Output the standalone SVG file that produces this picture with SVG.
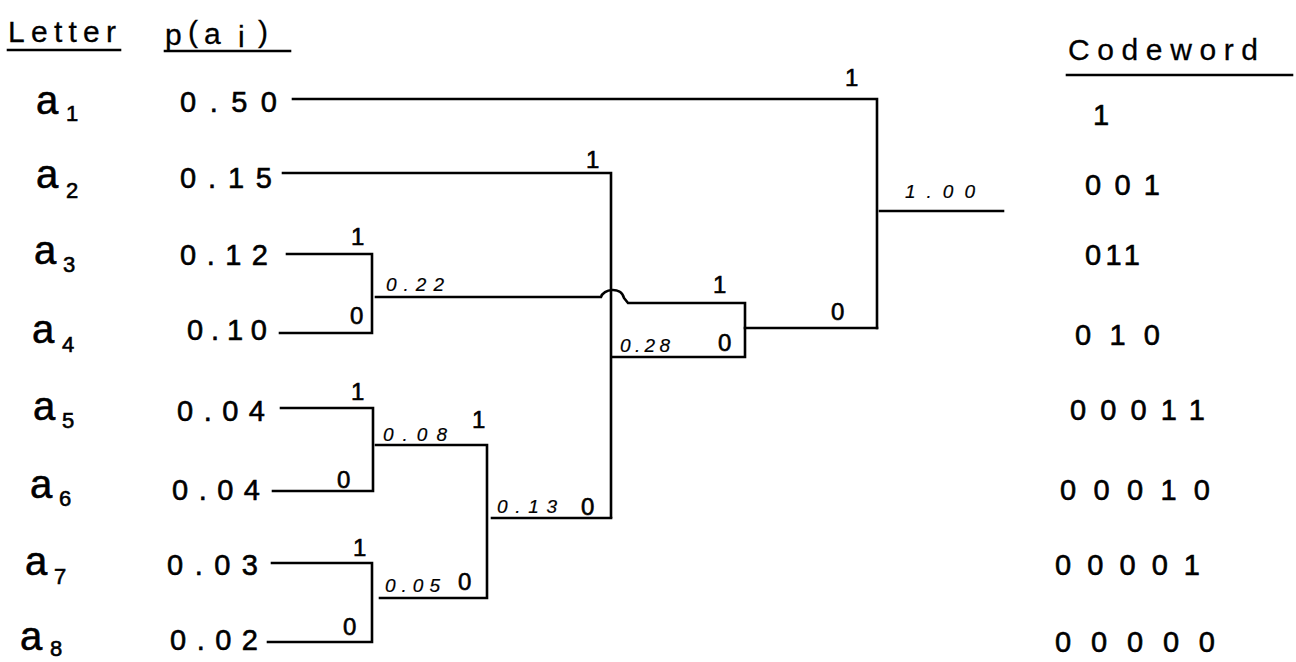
<svg xmlns="http://www.w3.org/2000/svg" width="1296" height="662" viewBox="0 0 1296 662">
<style>
text{font-family:"Liberation Sans","DejaVu Sans",sans-serif;fill:#000;stroke:#000;stroke-width:0.6}
.hd{font-size:30px;stroke-width:0.3}
.let{font-size:40px}
.sub{font-size:22px}
.pr{font-size:29px}
.cw{font-size:29px}
.sm{font-size:19px;font-style:italic;stroke-width:0.2}
.bit{font-size:24px}
.ln{stroke:#000;stroke-width:2.6;fill:none;stroke-linejoin:miter;stroke-linecap:square}
</style>
<rect width="1296" height="662" fill="#fff"/>
<g id="header">
<text class="hd" x="8" y="42" textLength="108" lengthAdjust="spacing">Letter</text>
<text class="hd" x="165" y="45" font-size="34">p</text>
<text class="hd" x="188" y="42" font-size="30">(</text>
<text class="hd" x="204" y="44" font-size="38">a</text>
<text class="hd" x="238" y="47" font-size="22">i</text>
<text class="hd" x="258" y="42" font-size="30">)</text>
<text class="hd" x="1068" y="60" textLength="190" lengthAdjust="spacing" font-size="32">Codeword</text>
<path class="ln" d="M8 50H120M165 51H290M1067 75H1292"/>
</g>
<g id="a1"><text class="let" x="36" y="114">a</text><text class="sub" x="66" y="121">1</text>
<text class="pr" x="180" y="112" textLength="97" lengthAdjust="spacing">0.50</text>
<text class="cw" x="1093" y="125">1</text></g>
<g id="a2"><text class="let" x="36" y="188">a</text><text class="sub" x="66" y="198">2</text>
<text class="pr" x="180" y="188" textLength="92" lengthAdjust="spacing">0.15</text>
<text class="cw" x="1085" y="195" textLength="75" lengthAdjust="spacing">001</text></g>
<g id="a3"><text class="let" x="34" y="264">a</text><text class="sub" x="63" y="272">3</text>
<text class="pr" x="180" y="265" textLength="88" lengthAdjust="spacing">0.12</text>
<text class="cw" x="1085" y="265" textLength="55" lengthAdjust="spacing">011</text></g>
<g id="a4"><text class="let" x="32" y="343">a</text><text class="sub" x="62" y="352">4</text>
<text class="pr" x="187" y="340" textLength="80" lengthAdjust="spacing">0.10</text>
<text class="cw" x="1075" y="345" textLength="85" lengthAdjust="spacing">010</text></g>
<g id="a5"><text class="let" x="33" y="420">a</text><text class="sub" x="62" y="428">5</text>
<text class="pr" x="177" y="421" textLength="88" lengthAdjust="spacing">0.04</text>
<text class="cw" x="1070" y="420" textLength="135" lengthAdjust="spacing">00011</text></g>
<g id="a6"><text class="let" x="30" y="498">a</text><text class="sub" x="59" y="506">6</text>
<text class="pr" x="172" y="500" textLength="88" lengthAdjust="spacing">0.04</text>
<text class="cw" x="1060" y="500" textLength="150" lengthAdjust="spacing">00010</text></g>
<g id="a7"><text class="let" x="25" y="575">a</text><text class="sub" x="54" y="584">7</text>
<text class="pr" x="167" y="575" textLength="91" lengthAdjust="spacing">0.03</text>
<text class="cw" x="1055" y="575" textLength="145" lengthAdjust="spacing">00001</text></g>
<g id="a8"><text class="let" x="20" y="650">a</text><text class="sub" x="50" y="656">8</text>
<text class="pr" x="170" y="650" textLength="88" lengthAdjust="spacing">0.02</text>
<text class="cw" x="1055" y="652" textLength="160" lengthAdjust="spacing">00000</text></g>
<g id="n022"><text class="bit" x="351" y="245">1</text><text class="bit" x="350" y="324">0</text>
<text class="sm" x="386" y="291" textLength="58" lengthAdjust="spacing">0.22</text></g>
<g id="n008"><text class="bit" x="351" y="400">1</text><text class="bit" x="337" y="488">0</text>
<text class="sm" x="383" y="441" textLength="64" lengthAdjust="spacing">0.08</text></g>
<g id="n005"><text class="bit" x="353" y="556">1</text><text class="bit" x="343" y="635">0</text>
<text class="sm" x="385" y="592" textLength="55" lengthAdjust="spacing">0.05</text></g>
<g id="n013"><text class="bit" x="472" y="428">1</text><text class="bit" x="458" y="590">0</text>
<text class="sm" x="497" y="513" textLength="60" lengthAdjust="spacing">0.13</text></g>
<g id="n028"><text class="bit" x="586" y="168">1</text><text class="bit" x="581" y="515">0</text>
<text class="sm" x="620" y="352" textLength="50" lengthAdjust="spacing">0.28</text></g>
<g id="n050"><text class="bit" x="713" y="293">1</text><text class="bit" x="718" y="351">0</text></g>
<g id="root"><text class="bit" x="845" y="86">1</text><text class="bit" x="831" y="320">0</text>
<text class="sm" x="905" y="198" textLength="70" lengthAdjust="spacing">1.00</text></g>
<g id="connectors" class="ln">
<path class="ln" d="M293 99H877V328"/>
<path class="ln" d="M880 211H1003"/>
<path class="ln" d="M283 173H611V517"/>
<path class="ln" d="M492 518H611"/>
<path class="ln" d="M287 254H372V333H280"/>
<path class="ln" d="M281 408H373V491H273"/>
<path class="ln" d="M272 563H372V642H268"/>
<path class="ln" d="M376 445H487V598H380"/>
<path class="ln" d="M376 297H601C603 289 621 286 624 298L628 303H745V357H613"/>
<path class="ln" d="M745 328H877"/>
</g>
</svg>
